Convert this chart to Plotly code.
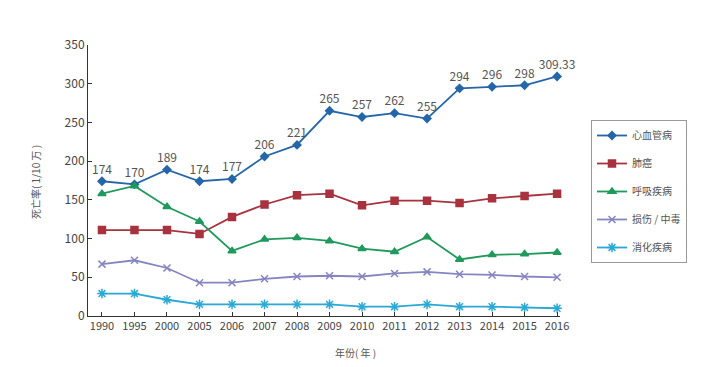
import plotly.graph_objects as go

years = ["1990", "1995", "2000", "2005", "2006", "2007", "2008", "2009",
         "2010", "2011", "2012", "2013", "2014", "2015", "2016"]

cardio = [174, 170, 189, 174, 177, 206, 221, 265, 257, 262, 255, 294, 296, 298, 309.33]
cardio_labels = ["174", "170", "189", "174", "177", "206", "221", "265", "257",
                 "262", "255", "294", "296", "298", "309.33"]
lung_cancer = [111, 111, 111, 106, 128, 144, 156, 158, 143, 149, 149, 146, 152, 155, 158]
respiratory = [158, 168, 141, 122, 84, 99, 101, 97, 87, 83, 102, 73, 79, 80, 82]
injury = [67, 72, 62, 43, 43, 48, 51, 52, 51, 55, 57, 54, 53, 51, 50]
digestive = [29, 29, 21, 15, 15, 15, 15, 15, 12, 12, 15, 12, 12, 11, 10]

names = ["心血管病", "肺癌", "呼吸疾病", "损伤 / 中毒", "消化疾病"]
colors = ["#2566a8", "#a8323e", "#1f9a5c", "#8585c2", "#2aa8d6"]
symbols = ["diamond", "square", "triangle-up", "x-thin-open", "asterisk-open"]
sizes = [6, 7, 7, 7, 8]
series = [cardio, lung_cancer, respiratory, injury, digestive]

fig = go.Figure()
for i, (nm, vals) in enumerate(zip(names, series)):
    if i == 0:
        kw = dict(text=cardio_labels, textposition="top center",
                  textfont=dict(size=12, color="#555555"),
                  mode="lines+markers+text")
    else:
        kw = dict(mode="lines+markers")
    fig.add_trace(go.Scatter(
        x=years, y=vals, name=nm, legendgroup=nm,
        line=dict(color=colors[i], width=1.8),
        marker=dict(symbol=symbols[i], size=sizes[i], color=colors[i],
                    line=dict(color=colors[i], width=1.5)),
        cliponaxis=False, **kw))

# page body has an 8px default margin; figure sized to fill the rest
W, H = 720, 359
L, T, R, B = 80, 37, 168, 51
pw = W - L - R
ph = H - T - B

def px_x(x):  # reference pixel x -> paper coord
    return (x - 8 - L) / pw

def px_y(y):  # reference pixel y -> paper coord
    return (H - B - (y - 8)) / ph

fig.update_layout(
    width=W, height=H,
    margin=dict(l=L, r=R, t=T, b=B),
    paper_bgcolor="white", plot_bgcolor="white",
    font=dict(family="Noto Sans CJK SC, Liberation Sans, sans-serif", size=11, color="#444444"),
    showlegend=True,
    legend=dict(x=px_x(591), y=px_y(120), xanchor="left", yanchor="top",
                bordercolor="#999999", borderwidth=1,
                font=dict(size=10, color="#555555"),
                tracegroupgap=9, itemwidth=30,
                traceorder="grouped"),
    annotations=[
        dict(text="死亡率( 1/10 万 )", x=px_x(35), y=px_y(182), xref="paper", yref="paper",
             xanchor="center", yanchor="middle",
             showarrow=False, textangle=-90, font=dict(size=10, color="#555555")),
        dict(text="年份( 年 )", x=px_x(355), y=px_y(352), xref="paper", yref="paper",
             xanchor="center", yanchor="middle",
             showarrow=False, font=dict(size=10, color="#555555")),
    ],
)

fig.update_xaxes(type="category", range=[-0.43, 14.09], showline=True,
                 linecolor="#333333", linewidth=1, ticks="inside", ticklen=4,
                 tickcolor="#333333", showgrid=False, zeroline=False,
                 tickfont=dict(size=11, color="#444444"))
fig.update_yaxes(range=[0, 350], dtick=50, showline=True, linecolor="#333333",
                 linewidth=1, ticks="inside", ticklen=4, tickcolor="#333333",
                 showgrid=False, zeroline=False,
                 tickfont=dict(size=12, color="#444444"))

fig.write_html("out.html")
